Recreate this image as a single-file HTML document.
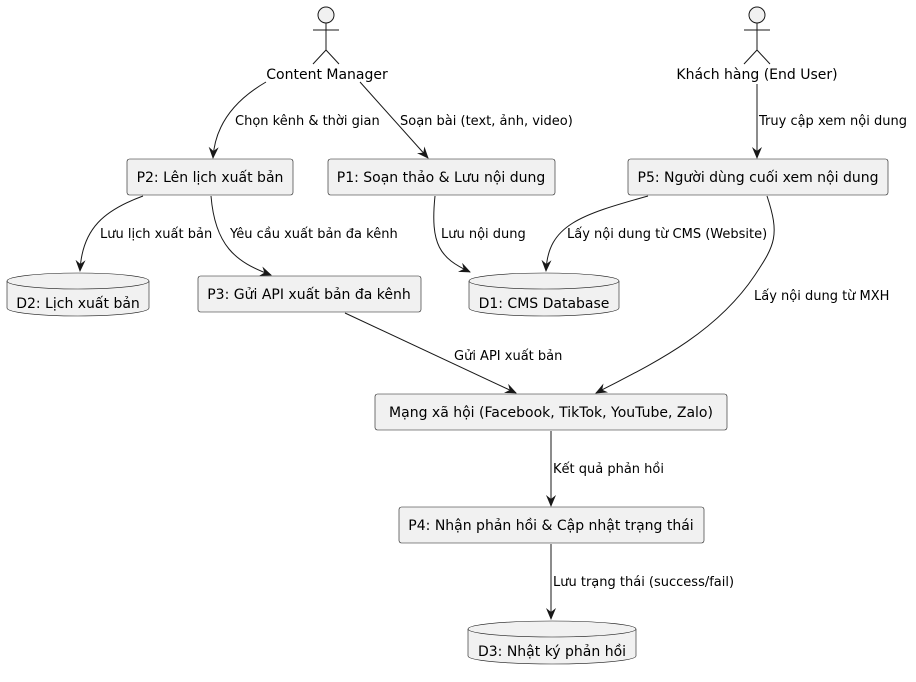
<!DOCTYPE html>
<html><head><meta charset="utf-8"><style>
html,body{margin:0;padding:0;background:#fff;}
svg{display:block;}
text{font-family:"DejaVu Sans","Liberation Sans",sans-serif;fill:#000;}
.n{font-size:14px;}
.l{font-size:13px;}
</style></head><body>
<svg width="916" height="682" viewBox="0 0 916 682" xmlns="http://www.w3.org/2000/svg">
<defs>
<marker id="a" viewBox="0 0 12 10" refX="11" refY="5" markerWidth="12" markerHeight="10" markerUnits="userSpaceOnUse" orient="auto">
<path d="M0,0 L12,5 L0,10 L4,5 Z" fill="#181818"/>
</marker>
</defs>
<g stroke="#181818" stroke-width="1" fill="none">
<!-- actors -->
<circle cx="326" cy="15" r="8" fill="#f1f1f1"/>
<path d="M326,23 V50 M313,30 H339 M326,50 L313,64 M326,50 L339,64"/>
<circle cx="757" cy="15" r="8" fill="#f1f1f1"/>
<path d="M757,23 V50 M744,30 H770 M757,50 L744,64 M757,50 L770,64"/>
</g>
<text class="n" x="327" y="79" text-anchor="middle">Content Manager</text>
<text class="n" x="757" y="79" text-anchor="middle">Khách hàng (End User)</text>

<g fill="#f1f1f1" stroke="#181818" stroke-width="0.6">
<rect x="127" y="159" width="166" height="36" rx="2.5"/>
<rect x="328" y="159" width="227" height="36" rx="2.5"/>
<rect x="628" y="159" width="260" height="36" rx="2.5"/>
<rect x="198" y="276" width="223" height="36" rx="2.5"/>
<rect x="375" y="394" width="352" height="36" rx="2.5"/>
<rect x="399" y="507" width="305" height="36" rx="2.5"/>
<!-- cylinders -->
<path d="M7,281 A71,8 0 0 1 149,281 V308 A71,8 0 0 1 7,308 Z"/>
<path d="M7,281 A71,8 0 0 0 149,281" fill="none"/>
<path d="M469,281 A75,8 0 0 1 619,281 V308 A75,8 0 0 1 469,308 Z"/>
<path d="M469,281 A75,8 0 0 0 619,281" fill="none"/>
<path d="M468,629 A84,8 0 0 1 636,629 V656 A84,8 0 0 1 468,656 Z"/>
<path d="M468,629 A84,8 0 0 0 636,629" fill="none"/>
</g>
<text class="n" x="210" y="182" text-anchor="middle">P2: Lên lịch xuất bản</text>
<text class="n" x="441" y="182" text-anchor="middle">P1: Soạn thảo &amp; Lưu nội dung</text>
<text class="n" x="758" y="182" text-anchor="middle">P5: Người dùng cuối xem nội dung</text>
<text class="n" x="309" y="299" text-anchor="middle">P3: Gửi API xuất bản đa kênh</text>
<text class="n" x="551" y="417" text-anchor="middle">Mạng xã hội (Facebook, TikTok, YouTube, Zalo)</text>
<text class="n" x="551" y="530" text-anchor="middle">P4: Nhận phản hồi &amp; Cập nhật trạng thái</text>
<text class="n" x="78" y="308" text-anchor="middle">D2: Lịch xuất bản</text>
<text class="n" x="544" y="308" text-anchor="middle">D1: CMS Database</text>
<text class="n" x="552" y="656" text-anchor="middle">D3: Nhật ký phản hồi</text>

<g stroke="#181818" stroke-width="1" fill="none" marker-end="url(#a)">
<path d="M266,82 C235,100 215,125 213,158"/>
<path d="M360,82 L428,158"/>
<path d="M757,84 V158"/>
<path d="M143,196 C105,210 82,228 80,271"/>
<path d="M211,196 C215,245 235,262 271,275"/>
<path d="M435,196 C430,245 440,258 470,272"/>
<path d="M648,196 C580,215 548,225 546,271"/>
<path d="M767,196 C780,235 775,245 755,275 C715,335 650,365 596,393"/>
<path d="M345,313 L516,393"/>
<path d="M551,431 V506"/>
<path d="M551,544 V619"/>
</g>
<text class="l" x="235" y="125">Chọn kênh &amp; thời gian</text>
<text class="l" x="400" y="125">Soạn bài (text, ảnh, video)</text>
<text class="l" x="759" y="125">Truy cập xem nội dung</text>
<text class="l" x="100" y="238">Lưu lịch xuất bản</text>
<text class="l" x="230" y="238">Yêu cầu xuất bản đa kênh</text>
<text class="l" x="441" y="238">Lưu nội dung</text>
<text class="l" x="567" y="238">Lấy nội dung từ CMS (Website)</text>
<text class="l" x="754" y="300">Lấy nội dung từ MXH</text>
<text class="l" x="454" y="360">Gửi API xuất bản</text>
<text class="l" x="553" y="473">Kết quả phản hồi</text>
<text class="l" x="553" y="586">Lưu trạng thái (success/fail)</text>
</svg>
</body></html>
